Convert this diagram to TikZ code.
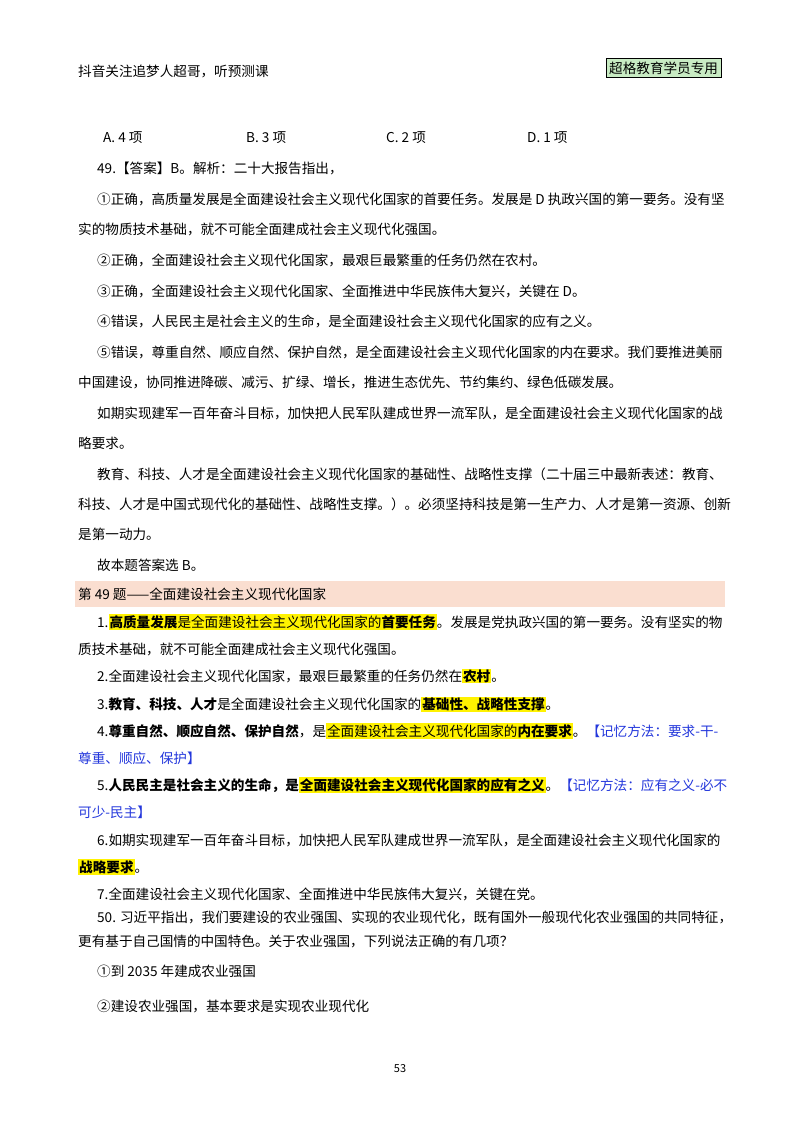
\documentclass[tikz,border=0pt]{standalone}
\usepackage{fontspec}
\setmainfont{Noto Sans CJK SC}
\definecolor{banner}{RGB}{250,222,208}
\definecolor{memo}{RGB}{35,55,220}
\definecolor{stamp}{RGB}{200,235,195}
\newcommand\hlt[1]{{\setlength{\fboxsep}{1pt}\colorbox{yellow}{\vphantom{国}#1}}}
\newcommand\bd[1]{\textbf{#1}}
\begin{document}
\begin{tikzpicture}[x=1pt,y=-1pt,
  t/.style={anchor=west,inner sep=0pt,font=\fontsize{13.6}{14}\selectfont},
  m/.style={t,text=memo}]
\useasboundingbox[fill=white] (0,0) rectangle (800,1132);
\node[t] (h1) at (78,71) {抖音关注追梦人超哥，听预测课};
\node[t,draw,fill=stamp,inner sep=3pt] (h2) at (606,68) {超格教育学员专用};
\node[t] (a) at (103,138) {A. 4 项};
\node[t] (b) at (246,138) {B. 3 项};
\node[t] (c) at (386,138) {C. 2 项};
\node[t] (d) at (527,138) {D. 1 项};
\node[t] (l1) at (97,168) {49.【答案】B。解析：二十大报告指出，};
\node[t] (l2) at (97,199) {①正确，高质量发展是全面建设社会主义现代化国家的首要任务。发展是 D 执政兴国的第一要务。没有坚};
\node[t] (l3) at (78,229) {实的物质技术基础，就不可能全面建成社会主义现代化强国。};
\node[t] (l4) at (97,260) {②正确，全面建设社会主义现代化国家，最艰巨最繁重的任务仍然在农村。};
\node[t] (l5) at (97,291) {③正确，全面建设社会主义现代化国家、全面推进中华民族伟大复兴，关键在 D。};
\node[t] (l6) at (97,321) {④错误，人民民主是社会主义的生命，是全面建设社会主义现代化国家的应有之义。};
\node[t] (l7) at (97,352) {⑤错误，尊重自然、顺应自然、保护自然，是全面建设社会主义现代化国家的内在要求。我们要推进美丽};
\node[t] (l8) at (78,382) {中国建设，协同推进降碳、减污、扩绿、增长，推进生态优先、节约集约、绿色低碳发展。};
\node[t] (l9) at (97,413) {如期实现建军一百年奋斗目标，加快把人民军队建成世界一流军队，是全面建设社会主义现代化国家的战};
\node[t] (l10) at (78,443) {略要求。};
\node[t] (l11) at (97,474) {教育、科技、人才是全面建设社会主义现代化国家的基础性、战略性支撑（二十届三中最新表述：教育、};
\node[t] (l12) at (78,504) {科技、人才是中国式现代化的基础性、战略性支撑。）。必须坚持科技是第一生产力、人才是第一资源、创新};
\node[t] (l13) at (78,534) {是第一动力。};
\node[t] (l14) at (97,565) {故本题答案选 B。};
\fill[banner] (75,581) rectangle (725,607);
\node[t] (k0) at (78,594) {第 49 题——全面建设社会主义现代化国家};
\node[t] (k1) at (97,622) {1.\hlt{\bd{高质量发展}是全面建设社会主义现代化国家的\bd{首要任务}}。发展是党执政兴国的第一要务。没有坚实的物};
\node[t] (k2) at (78,649) {质技术基础，就不可能全面建成社会主义现代化强国。};
\node[t] (k3) at (97,676) {2.全面建设社会主义现代化国家，最艰巨最繁重的任务仍然在\hlt{\bd{农村}}。};
\node[t] (k4) at (97,704) {3.\bd{教育、科技、人才}是全面建设社会主义现代化国家的\hlt{\bd{基础性、战略性支撑}}。};
\node[t] (k5) at (97,731) {4.\bd{尊重自然、顺应自然、保护自然}，是\hlt{全面建设社会主义现代化国家的\bd{内在要求}}。\textcolor{memo}{【记忆方法：要求-干-}};
\node[m] (k6) at (78,758) {尊重、顺应、保护】};
\node[t] (k7) at (97,785) {5.\bd{人民民主是社会主义的生命，是}\hlt{\bd{全面建设社会主义现代化国家的应有之义}}。\textcolor{memo}{【记忆方法：应有之义-必不}};
\node[m] (k8) at (78,812) {可少-民主】};
\node[t] (k9) at (97,840) {6.如期实现建军一百年奋斗目标，加快把人民军队建成世界一流军队，是全面建设社会主义现代化国家的};
\node[t] (k10) at (78,867) {\hlt{\bd{战略要求}}。};
\node[t] (k11) at (97,894) {7.全面建设社会主义现代化国家、全面推进中华民族伟大复兴，关键在党。};
\node[t] (q1) at (97,917) {50. 习近平指出，我们要建设的农业强国、实现的农业现代化，既有国外一般现代化农业强国的共同特征，};
\node[t] (q2) at (78,941) {更有基于自己国情的中国特色。关于农业强国，下列说法正确的有几项？};
\node[t] (q3) at (97,971) {①到 2035 年建成农业强国};
\node[t] (q4) at (97,1006) {②建设农业强国，基本要求是实现农业现代化};
\node[t,font=\fontsize{11}{12}\selectfont,anchor=center] (pg) at (400,1069) {53};
\end{tikzpicture}
\end{document}
